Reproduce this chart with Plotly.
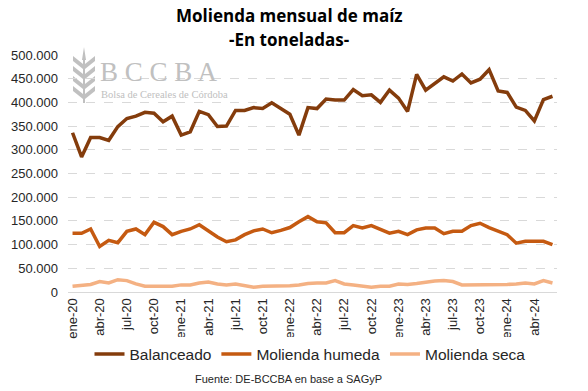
import plotly.graph_objects as go

meses = ["ene", "feb", "mar", "abr", "may", "jun", "jul", "ago", "sep", "oct", "nov", "dic"]
categorias = [f"{m}-{a}" for a in ["20", "21", "22", "23", "24"] for m in meses][:54]

balanceado = [336000, 285000, 326000, 326000, 320000, 349000, 366000, 371000, 379000, 377000,
              359000, 371000, 331000, 338000, 381000, 374000, 349000, 350000, 383000, 383000,
              389000, 387000, 399000, 388000, 375000, 331000, 389000, 387000, 407000, 405000,
              405000, 427000, 414000, 416000, 400000, 426000, 409000, 381000, 459000, 426000,
              441000, 454000, 445000, 460000, 441000, 449000, 469000, 424000, 421000, 390000,
              383000, 361000, 406000, 413000]

humeda = [124000, 124000, 133000, 96000, 109000, 104000, 128000, 133000, 121000, 147000,
          138000, 121000, 128000, 133000, 142000, 128000, 116000, 106000, 110000, 121000,
          129000, 133000, 125000, 130000, 136000, 148000, 159000, 148000, 146000, 125000,
          125000, 140000, 135000, 140000, 131000, 124000, 128000, 121000, 131000, 135000,
          135000, 123000, 128000, 128000, 140000, 145000, 136000, 128000, 121000, 103000,
          107000, 107000, 107000, 100000]

seca = [12000, 14000, 16000, 22000, 19000, 26000, 24000, 17000, 12000, 12000,
        12000, 12000, 15000, 15000, 19000, 21000, 17000, 15000, 17000, 14000,
        10000, 12000, 12000, 12000, 13000, 15000, 18000, 19000, 19000, 24000,
        17000, 15000, 12000, 10000, 12000, 12000, 17000, 16000, 18000, 21000,
        23000, 24000, 22000, 15000, 15000, 15000, 16000, 15000, 16000, 17000,
        19000, 17000, 24000, 19000]

y_ticks = [0, 50000, 100000, 150000, 200000, 250000, 300000, 350000, 400000, 450000, 500000]
y_ticktext = ["0", "50.000", "100.000", "150.000", "200.000", "250.000", "300.000",
              "350.000", "400.000", "450.000", "500.000"]

x_ticks = categorias[::3]

series = [
    ("Balanceado", balanceado, "#843C0C"),
    ("Molienda humeda", humeda, "#C55A11"),
    ("Molienda seca", seca, "#F4B183"),
]

# plot area in pixels
L, R, T, B = 68, 557, 55, 292.5
W, H = R - L, B - T


def px(x):
    return (x - L) / W


def py(y):
    return (B - y) / H


fig = go.Figure()
for nombre, valores, color in series:
    fig.add_trace(go.Scatter(x=categorias, y=valores, mode="lines", name=nombre,
                             line=dict(color=color, width=3.5)))

fig.update_layout(
    width=588, height=391,
    margin=dict(l=L, r=588 - R, t=T, b=391 - B),
    paper_bgcolor="white", plot_bgcolor="white",
    font=dict(family="Liberation Sans, Arial, sans-serif", color="#262626"),
    showlegend=True,
    legend=dict(orientation="h", x=px(310), xanchor="center", y=py(355), yanchor="middle",
                font=dict(size=15.5, color="#262626"), traceorder="normal"),
)

fig.update_xaxes(type="category", range=[-0.5, 53.5], tickmode="array", tickvals=x_ticks,
                 ticktext=x_ticks, tickangle=-90, tickfont=dict(size=13, color="#262626"),
                 showgrid=False, showline=True, linecolor="#D9D9D9", linewidth=1,
                 ticks="", fixedrange=True)
fig.update_yaxes(range=[0, 500000], tickmode="array", tickvals=y_ticks, ticktext=y_ticktext,
                 tickfont=dict(size=13, color="#262626"), showgrid=True, gridcolor="#D9D9D9",
                 griddash="dash", gridwidth=1, zeroline=False, showline=False,
                 ticklabelstandoff=9)

# titles
fig.add_annotation(text="<b>Molienda mensual de maíz</b>", xref="paper", yref="paper",
                   x=px(289), y=py(15.5), xanchor="center", yanchor="middle", showarrow=False,
                   font=dict(size=17, family="Open Sans, sans-serif", color="#000000"))
fig.add_annotation(text="<b>-En toneladas-</b>", xref="paper", yref="paper",
                   x=px(289), y=py(39.5), xanchor="center", yanchor="middle", showarrow=False,
                   font=dict(size=17, family="Open Sans, sans-serif", color="#000000"))

# watermark logo
fig.add_annotation(text="B C C B A", xref="paper", yref="paper",
                   x=px(98), xanchor="left", y=py(72), yanchor="middle", showarrow=False,
                   font=dict(size=27, family="Liberation Serif, DejaVu Serif, serif", color="#C0C0C0"))
fig.add_annotation(text="Bolsa de Cereales de Córdoba", xref="paper", yref="paper",
                   x=px(99), xanchor="left", y=py(95), yanchor="middle", showarrow=False,
                   font=dict(size=10.5, family="Liberation Serif, DejaVu Serif, serif", color="#C0C0C0"))

# wheat icon of the logo
cx = 84
icon_paths = []
for k in range(4):
    y0 = 62 + k * 10
    icon_paths.append(f"M {px(cx - 1)},{py(y0 + 7)} L {px(cx - 11)},{py(y0 - 1)} "
                      f"L {px(cx - 11)},{py(y0 - 6)} L {px(cx - 1)},{py(y0 + 2)} Z")
    icon_paths.append(f"M {px(cx + 1)},{py(y0 + 7)} L {px(cx + 11)},{py(y0 - 1)} "
                      f"L {px(cx + 11)},{py(y0 - 6)} L {px(cx + 1)},{py(y0 + 2)} Z")
icon_paths.append(f"M {px(cx - 2)},{py(60)} L {px(cx)},{py(47)} L {px(cx + 2)},{py(60)} Z")
icon_paths.append(f"M {px(cx - 1)},{py(60)} L {px(cx + 1)},{py(60)} L {px(cx + 1)},{py(103)} "
                  f"L {px(cx - 1)},{py(103)} Z")
for p in icon_paths:
    fig.add_shape(type="path", path=p, xref="paper", yref="paper",
                  fillcolor="#C0C0C0", line=dict(width=0), layer="below")

# source
fig.add_annotation(text="Fuente: DE-BCCBA en base a SAGyP", xref="paper", yref="paper",
                   x=px(288), y=py(380), xanchor="center", yanchor="middle", showarrow=False,
                   font=dict(size=11, color="#262626"))

fig.write_html("out.html", config={"displayModeBar": False},
               post_script="document.body.style.margin='0';")
